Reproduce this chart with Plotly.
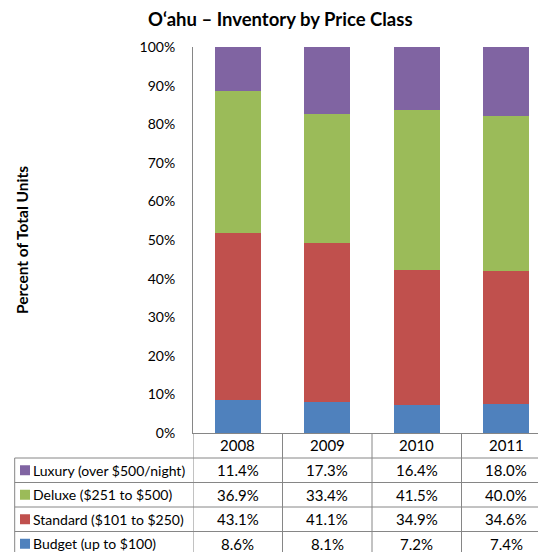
import plotly.graph_objects as go

years = ["2008", "2009", "2010", "2011"]
series_names = ["Luxury (over $500/night)", "Deluxe ($251 to $500)",
                "Standard ($101 to $250)", "Budget (up to $100)"]
luxury = [11.4, 17.3, 16.4, 18.0]
deluxe = [36.9, 33.4, 41.5, 40.0]
standard = [43.1, 41.1, 34.9, 34.6]
budget = [8.6, 8.1, 7.2, 7.4]
colors = {"Luxury (over $500/night)": "#8064A2", "Deluxe ($251 to $500)": "#9BBB59",
          "Standard ($101 to $250)": "#C0504D", "Budget (up to $100)": "#4F81BD"}
values = {"Luxury (over $500/night)": luxury, "Deluxe ($251 to $500)": deluxe,
          "Standard ($101 to $250)": standard, "Budget (up to $100)": budget}
y_ticks = list(range(0, 101, 10))

# page has an 8px body margin; figure coords = page coords - 8
OFF = 8
W, H = 546 - OFF, 552 - OFF
L = 193 - OFF
T = 47 - OFF
B = H - (433 - OFF)
PH = H - T - B
PW = W - L
CAT_W = 89.5
FONT = "Lato"
GRID = "#868686"

def py(p):  # page pixel y -> paper y
    return (H - B - (p - OFF)) / PH

def px(p):  # page pixel x -> paper x
    return (p - OFF - L) / PW

fig = go.Figure()
x_idx = list(range(len(years)))
for name in ["Budget (up to $100)", "Standard ($101 to $250)",
             "Deluxe ($251 to $500)", "Luxury (over $500/night)"]:
    fig.add_trace(go.Bar(x=x_idx, y=values[name], name=name,
                         marker=dict(color=colors[name], line=dict(width=0)),
                         width=0.514, showlegend=False, hoverinfo="skip"))

shapes = []
annotations = []
line = dict(color=GRID, width=1)
bottom = 560
row_edges = [433, 458, 482.5, 507, 531.5]
for r in row_edges[1:]:
    shapes.append(dict(type="line", xref="paper", yref="paper",
                       x0=px(14.7), x1=1.05, y0=py(r), y1=py(r), line=line))
shapes.append(dict(type="line", xref="paper", yref="paper",
                   x0=px(14.7), x1=px(14.7), y0=py(458), y1=py(bottom), line=line))
for b in [-0.5, 0.5, 1.5, 2.5]:
    shapes.append(dict(type="line", xref="x", yref="paper",
                       x0=b, x1=b, y0=0, y1=py(bottom), line=line))

for i, yr in enumerate(years):
    annotations.append(dict(x=i, y=py(445.5), xref="x", yref="paper", text=yr,
                            showarrow=False, font=dict(family=FONT, size=15, color="#000"),
                            xanchor="center", yanchor="middle"))
for r, name in enumerate(series_names):
    cy = (row_edges[r + 1] + (row_edges[r + 2] if r + 2 < len(row_edges) else 556)) / 2
    shapes.append(dict(type="rect", xref="paper", yref="paper",
                       x0=px(20), x1=px(30), y0=py(cy - 5), y1=py(cy + 5),
                       fillcolor=colors[name], line=dict(width=0)))
    annotations.append(dict(x=px(31), y=py(cy), xref="paper", yref="paper", text=name,
                            showarrow=False, font=dict(family=FONT, size=14, color="#000"),
                            xanchor="left", yanchor="middle"))
    for i, v in enumerate(values[name]):
        annotations.append(dict(x=i, y=py(cy), xref="x", yref="paper", text=f"{v:.1f}%",
                                showarrow=False, font=dict(family=FONT, size=15, color="#000"),
                                xanchor="center", yanchor="middle"))

annotations.append(dict(x=px(280), y=py(19), xref="paper", yref="paper",
                        text="<b>O‘ahu – Inventory by Price Class</b>", showarrow=False,
                        font=dict(family=FONT, size=18.5, color="#000"),
                        xanchor="center", yanchor="middle"))
annotations.append(dict(x=px(22), y=py(240), xref="paper", yref="paper",
                        text="<b>Percent of Total Units</b>", showarrow=False, textangle=-90,
                        font=dict(family=FONT, size=15.5, color="#000"),
                        xanchor="center", yanchor="middle"))

fig.update_layout(
    width=W, height=H,
    margin=dict(l=L, r=0, t=T, b=B, pad=0),
    paper_bgcolor="white", plot_bgcolor="white",
    barmode="stack", bargap=0,
    shapes=shapes, annotations=annotations,
    xaxis=dict(range=[-0.5, -0.5 + PW / CAT_W], showticklabels=False, ticks="",
               showgrid=False, zeroline=False, showline=True, linecolor=GRID, linewidth=1),
    yaxis=dict(range=[0, 100], tickvals=y_ticks, ticktext=[f"{t}%" for t in y_ticks],
               showgrid=False, zeroline=False, showline=True, linecolor=GRID, linewidth=1,
               ticks="", ticklabelstandoff=14,
               tickfont=dict(family=FONT, size=14, color="#000")),
)
fig.write_html("out.html")
